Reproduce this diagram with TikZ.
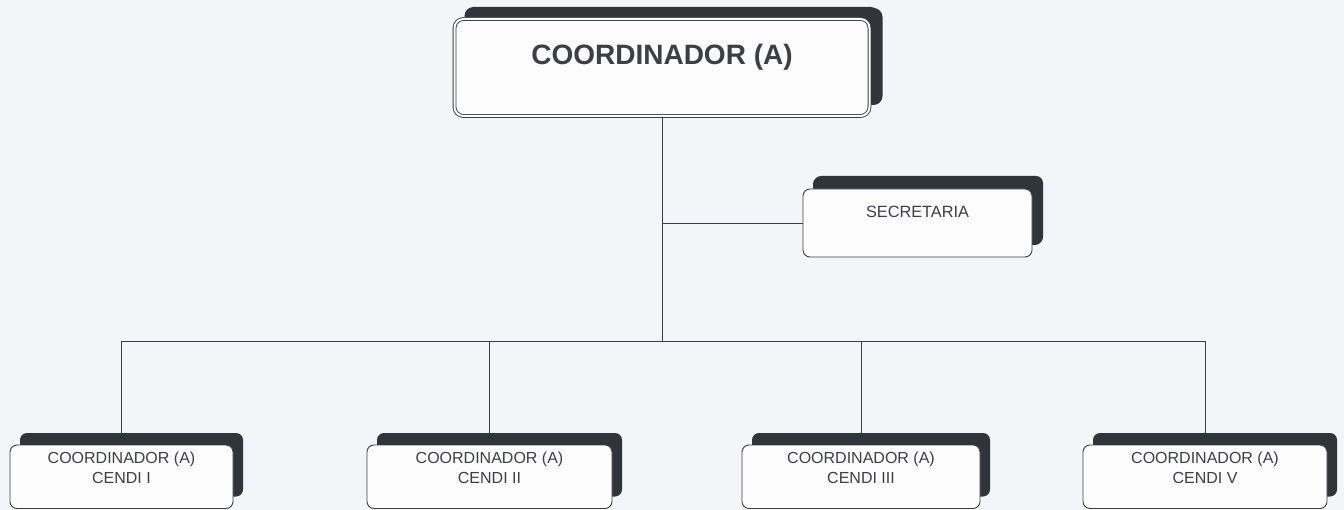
\documentclass[tikz,border=0pt]{standalone}
\usepackage{fontspec}
\setmainfont{Liberation Sans}
\usetikzlibrary{shadows,backgrounds}
\definecolor{bgc}{HTML}{F4F5F8}
\definecolor{boxc}{HTML}{FCFCFD}
\definecolor{linec}{HTML}{3A3F45}
\definecolor{shadc}{HTML}{30353A}
\definecolor{textc}{HTML}{3C3F44}
\tikzset{
  orgbox/.style={draw=linec, line width=0.9pt, fill=boxc, rounded corners=7pt,
    inner sep=0pt, anchor=center,
    drop shadow={shadow xshift=10pt, shadow yshift=12pt, fill=shadc, opacity=1}},
  topbox/.style={orgbox, double=boxc, double distance=2pt, rounded corners=9pt,
    drop shadow={shadow xshift=13pt, shadow yshift=11pt, fill=shadc, opacity=1}},
  secbox/.style={orgbox,
    drop shadow={shadow xshift=11pt, shadow yshift=13pt, fill=shadc, opacity=1}},
  conn/.style={draw=linec, line width=0.9pt},
  smalltxt/.style={text=textc, inner sep=0pt, align=center, font=\fontsize{16}{19.5}\selectfont},
}
\begin{document}
\begin{tikzpicture}[x=1pt,y=-1pt]
\useasboundingbox (0,0) rectangle (1344,510);
% boxes
\node[topbox, minimum width=415pt, minimum height=97pt] (top) at (662,67.5) {};
\node[text=textc, inner sep=0pt, anchor=base, font=\bfseries\fontsize{28}{30}\selectfont] (ttop) at (662,65) {COORDINADOR (A)};
\node[secbox, minimum width=229pt, minimum height=68pt] (sec) at (917.5,223) {};
\node[text=textc, inner sep=0pt, anchor=base, font=\fontsize{16.3}{18}\selectfont] (tsec) at (917.5,218) {SECRETARIA};
\node[orgbox, minimum width=223pt, minimum height=63.5pt] (c1) at (121.5,476.75) {};
\node[orgbox, minimum width=245pt, minimum height=63.5pt] (c2) at (489.5,476.75) {};
\node[orgbox, minimum width=238pt, minimum height=63.5pt] (c3) at (861,476.75) {};
\node[orgbox, minimum width=244pt, minimum height=63.5pt] (c5) at (1205,476.75) {};
\node[smalltxt, anchor=north] (t1) at (121.5,451.8) {COORDINADOR (A)\\CENDI I};
\node[smalltxt, anchor=north] (t2) at (489.5,451.8) {COORDINADOR (A)\\CENDI II};
\node[smalltxt, anchor=north] (t3) at (861,451.8) {COORDINADOR (A)\\CENDI III};
\node[smalltxt, anchor=north] (t5) at (1205,451.8) {COORDINADOR (A)\\CENDI V};
\coordinate (bus) at (663,341);
\begin{scope}[on background layer]
\fill[bgc] (0,0) rectangle (1344,510);
\draw[conn] (top.south) -- (top.south |- bus);
\draw[conn] (top.south |- sec.west) -- (sec.west);
\draw[conn] (c1.north |- bus) -- (c5.north |- bus);
\draw[conn] (c1.north |- bus) -- (c1.north);
\draw[conn] (c2.north |- bus) -- (c2.north);
\draw[conn] (c3.north |- bus) -- (c3.north);
\draw[conn] (c5.north |- bus) -- (c5.north);
\end{scope}
\end{tikzpicture}
\end{document}
